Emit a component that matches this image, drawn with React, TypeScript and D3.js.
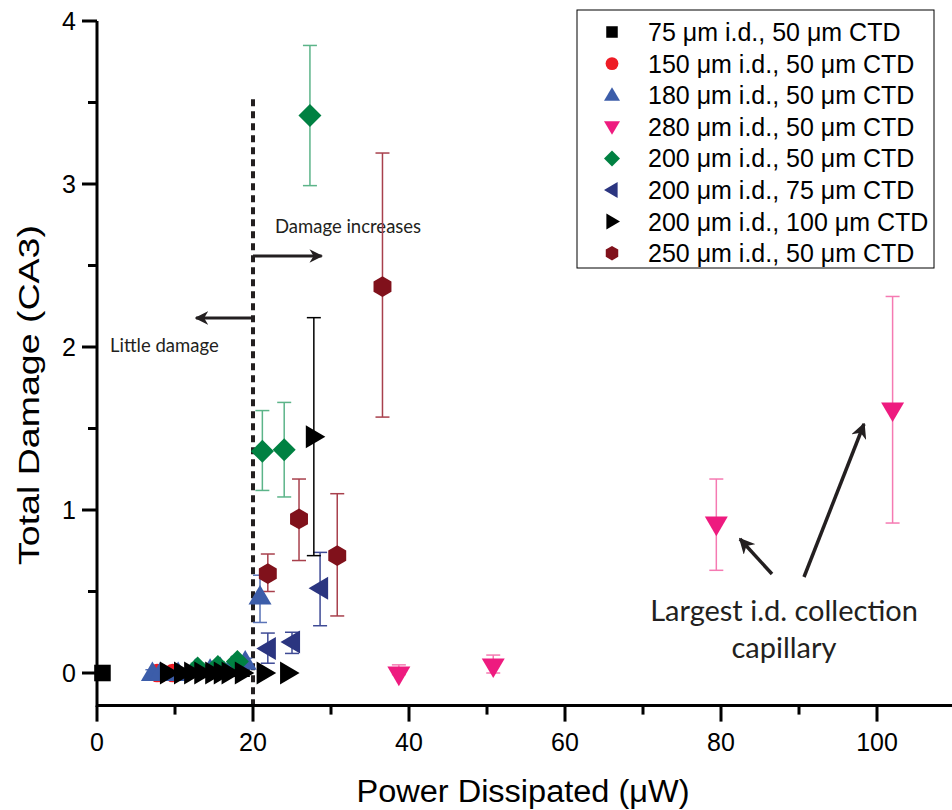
import React from "react";
import * as d3 from "d3";

const W = 952;
const H = 810;

// ---- data ----
const s75x = [0.7];
const s75y = [0];
const s75lo = [0];
const s75hi = [0];

const s150x = [7.7, 8.2, 9.7];
const s150y = [0, 0, 0];
const s150lo = [-0.02, -0.03, -0.02];
const s150hi = [0.02, 0.03, 0.02];

const s180x = [7.1, 8.1, 10.4, 12.6, 14.5, 15.8, 17.3, 19.0, 20.9];
const s180y = [0.0, 0.0, 0.0, 0.02, 0.02, 0.03, 0.04, 0.07, 0.47];
const s180lo = [-0.02, -0.02, -0.02, 0.0, 0.0, 0.01, 0.02, 0.05, 0.31];
const s180hi = [0.02, 0.02, 0.02, 0.04, 0.04, 0.05, 0.06, 0.09, 0.6];

const s280x = [38.7, 50.8, 79.4, 102.0];
const s280y = [-0.01, 0.04, 0.91, 1.61];
const s280lo = [-0.01, 0.0, 0.63, 0.92];
const s280hi = [0.05, 0.11, 1.19, 2.31];

const s200ax = [12.9, 15.5, 18.0, 21.2, 24.0, 27.3];
const s200ay = [0.03, 0.04, 0.07, 1.36, 1.37, 3.42];
const s200alo = [0.0, 0.01, 0.04, 1.12, 1.08, 2.99];
const s200ahi = [0.06, 0.07, 0.1, 1.61, 1.66, 3.85];

const s200bx = [21.9, 25.0, 28.6];
const s200by = [0.15, 0.19, 0.52];
const s200blo = [0.06, 0.12, 0.29];
const s200bhi = [0.245, 0.25, 0.74];

const s200cx = [9.1, 10.9, 12.2, 13.5, 14.9, 16.0, 17.0, 18.7, 21.5, 24.5, 27.8];
const s200cy = [0, 0, 0, 0, 0, 0, 0, 0, 0, 0, 1.45];
const s200clo = [-0.02, -0.02, -0.02, -0.02, -0.02, -0.02, -0.02, -0.02, 0, 0, 0.72];
const s200chi = [0.02, 0.02, 0.02, 0.02, 0.02, 0.02, 0.02, 0.02, 0, 0, 2.18];

const s250x = [21.9, 25.9, 30.8, 36.6];
const s250y = [0.61, 0.945, 0.72, 2.37];
const s250lo = [0.5, 0.69, 0.35, 1.57];
const s250hi = [0.73, 1.19, 1.1, 3.19];

const legendLabels = [
  ["75", "50"],
  ["150", "50"],
  ["180", "50"],
  ["280", "50"],
  ["200", "50"],
  ["200", "75"],
  ["200", "100"],
  ["250", "50"],
];

const xTicks = [0, 20, 40, 60, 80, 100];
const xMinor = [10, 30, 50, 70, 90];
const yTicks = [0, 1, 2, 3, 4];
const yMinor = [0.5, 1.5, 2.5, 3.5];

type Shape = "square" | "circle" | "up" | "down" | "diamond" | "left" | "right" | "hex";

const series: {
  x: number[]; y: number[]; lo: number[]; hi: number[];
  shape: Shape; fill: string; bar: string;
}[] = [
  { x: s75x, y: s75y, lo: s75lo, hi: s75hi, shape: "square", fill: "#000000", bar: "#000000" },
  { x: s150x, y: s150y, lo: s150lo, hi: s150hi, shape: "circle", fill: "#ee1c25", bar: "#ee1c25" },
  { x: s180x, y: s180y, lo: s180lo, hi: s180hi, shape: "up", fill: "#3c5da9", bar: "#5a74b8" },
  { x: s280x, y: s280y, lo: s280lo, hi: s280hi, shape: "down", fill: "#ee1b7f", bar: "#f57ab2" },
  { x: s200ax, y: s200ay, lo: s200alo, hi: s200ahi, shape: "diamond", fill: "#008142", bar: "#5cb489" },
  { x: s200bx, y: s200by, lo: s200blo, hi: s200bhi, shape: "left", fill: "#2b3580", bar: "#3e4a95" },
  { x: s200cx, y: s200cy, lo: s200clo, hi: s200chi, shape: "right", fill: "#000000", bar: "#000000" },
  { x: s250x, y: s250y, lo: s250lo, hi: s250hi, shape: "hex", fill: "#80111b", bar: "#a8404c" },
];

function shapePath(shape: Shape, s: number): string {
  switch (shape) {
    case "square":
      return `M${-s * 0.72},${-s * 0.72}H${s * 0.72}V${s * 0.72}H${-s * 0.72}Z`;
    case "circle":
      return d3.arc()({ innerRadius: 0, outerRadius: s * 0.8, startAngle: 0, endAngle: 2 * Math.PI } as any) as string;
    case "up":
      return `M0,${-s}L${s},${s * 0.7}L${-s},${s * 0.7}Z`;
    case "down":
      return `M0,${s}L${s},${-s * 0.7}L${-s},${-s * 0.7}Z`;
    case "left":
      return `M${-s},0L${s * 0.7},${-s}L${s * 0.7},${s}Z`;
    case "right":
      return `M${s},0L${-s * 0.7},${-s}L${-s * 0.7},${s}Z`;
    case "diamond":
      return `M0,${-s}L${s},0L0,${s}L${-s},0Z`;
    case "hex": {
      const pts = d3.range(6).map((i) => {
        const a = (Math.PI / 3) * i - Math.PI / 2;
        return [Math.cos(a) * s * 0.9, Math.sin(a) * s * 0.9];
      });
      return "M" + pts.map((p) => p.join(",")).join("L") + "Z";
    }
  }
}

export default function App() {
  const x = d3.scaleLinear().domain([0, 100]).range([97, 877]);
  const y = d3.scaleLinear().domain([0, 4]).range([673, 21]);
  const xAxisY = y(-0.2);
  const axisFont = "'Liberation Sans', Arial, sans-serif";
  const annFont = "Lato, 'Open Sans', sans-serif";
  const capW = 7;
  const markerS = 11.5;

  return (
    <svg width={W} height={H} style={{ position: "absolute", left: 0, top: 0, background: "#fff" }}>
      <defs>
        <marker id="ah" viewBox="0 0 10 10" refX="9" refY="5" markerWidth="4.5" markerHeight="4.5" orient="auto-start-reverse">
          <path d="M0,0L10,5L0,10L3,5Z" fill="#231f20" />
        </marker>
      </defs>
      <rect x={0} y={0} width={W} height={H} fill="#fff" />

      {/* dashed threshold line */}
      <line x1={x(20)} x2={x(20)} y1={y(3.52)} y2={xAxisY} stroke="#231f20" strokeWidth={4} strokeDasharray="7,5" />

      {/* annotation arrows */}
      <line x1={x(20)} x2={x(28.8)} y1={256} y2={256} stroke="#231f20" strokeWidth={3} markerEnd="url(#ah)" />
      <line x1={x(20)} x2={x(12.7)} y1={318} y2={318} stroke="#231f20" strokeWidth={3} markerEnd="url(#ah)" />
      <text x={275} y={233} fontFamily={annFont} fontSize={18.5} fill="#231f20">Damage increases</text>
      <text x={110} y={352} fontFamily={annFont} fontSize={18.5} fill="#231f20">Little damage</text>

      {/* error bars */}
      {series.map((s, si) => (
        <g key={"eb" + si} stroke={s.bar} strokeWidth={1.5}>
          {s.x.map((xv, i) => {
            if (s.hi[i] === s.lo[i]) return null;
            const cx = x(xv);
            return (
              <g key={i}>
                <line x1={cx} x2={cx} y1={y(s.lo[i])} y2={y(s.hi[i])} />
                <line x1={cx - capW} x2={cx + capW} y1={y(s.hi[i])} y2={y(s.hi[i])} />
                <line x1={cx - capW} x2={cx + capW} y1={y(s.lo[i])} y2={y(s.lo[i])} />
              </g>
            );
          })}
        </g>
      ))}

      {/* markers */}
      {series.map((s, si) => (
        <g key={"mk" + si} fill={s.fill}>
          {s.x.map((xv, i) => (
            <path key={i} d={shapePath(s.shape, markerS)} transform={`translate(${x(xv)},${y(s.y[i])})`} />
          ))}
        </g>
      ))}

      {/* big annotation */}
      <line x1={772} x2={740} y1={574} y2={539} stroke="#231f20" strokeWidth={3.5} markerEnd="url(#ah)" />
      <line x1={804} x2={864} y1={577} y2={424} stroke="#231f20" strokeWidth={3.5} markerEnd="url(#ah)" />
      <text x={784} y={621} textAnchor="middle" fontFamily={annFont} fontSize={29} fill="#231f20">Largest i.d. collection</text>
      <text x={784} y={658} textAnchor="middle" fontFamily={annFont} fontSize={29} fill="#231f20">capillary</text>

      {/* axes */}
      <line x1={x(0)} x2={W} y1={xAxisY} y2={xAxisY} stroke="#000" strokeWidth={3} />
      <line x1={x(0)} x2={x(0)} y1={y(4)} y2={xAxisY + 1.5} stroke="#000" strokeWidth={3} />
      {xTicks.map((t) => (
        <g key={"xt" + t}>
          <line x1={x(t)} x2={x(t)} y1={xAxisY} y2={xAxisY + 16} stroke="#000" strokeWidth={3} />
          <text x={x(t)} y={751} textAnchor="middle" fontFamily={axisFont} fontSize={25} fill="#000">{t}</text>
        </g>
      ))}
      {xMinor.map((t) => (
        <line key={"xm" + t} x1={x(t)} x2={x(t)} y1={xAxisY} y2={xAxisY + 9} stroke="#000" strokeWidth={3} />
      ))}
      {yTicks.map((t) => (
        <g key={"yt" + t}>
          <line x1={x(0) - 15} x2={x(0)} y1={y(t)} y2={y(t)} stroke="#000" strokeWidth={3} />
          <text x={76} y={y(t) + 9} textAnchor="end" fontFamily={axisFont} fontSize={25} fill="#000">{t}</text>
        </g>
      ))}
      {yMinor.map((t) => (
        <line key={"ym" + t} x1={x(0) - 9} x2={x(0)} y1={y(t)} y2={y(t)} stroke="#000" strokeWidth={3} />
      ))}
      <text x={523} y={802} textAnchor="middle" fontFamily={axisFont} fontSize={31} fill="#000" textLength={333} lengthAdjust="spacingAndGlyphs">
        Power Dissipated (μW)
      </text>
      <text transform={`translate(39,${395}) rotate(-90)`} textAnchor="middle" fontFamily={axisFont} fontSize={30} fill="#000" textLength={340} lengthAdjust="spacingAndGlyphs">
        Total Damage (CA3)
      </text>

      {/* legend */}
      <rect x={577} y={10} width={357} height={258} fill="#fff" stroke="#000" strokeWidth={1} />
      {series.map((s, i) => {
        const ry = 32 + i * 31.6;
        return (
          <g key={"lg" + i}>
            <path d={shapePath(s.shape, 8)} fill={s.fill} transform={`translate(612,${ry})`} />
            <text x={648} y={ry + 9} fontFamily={axisFont} fontSize={25} fill="#000">
              {`${legendLabels[i][0]} μm i.d., ${legendLabels[i][1]} μm CTD`}
            </text>
          </g>
        );
      })}
    </svg>
  );
}
